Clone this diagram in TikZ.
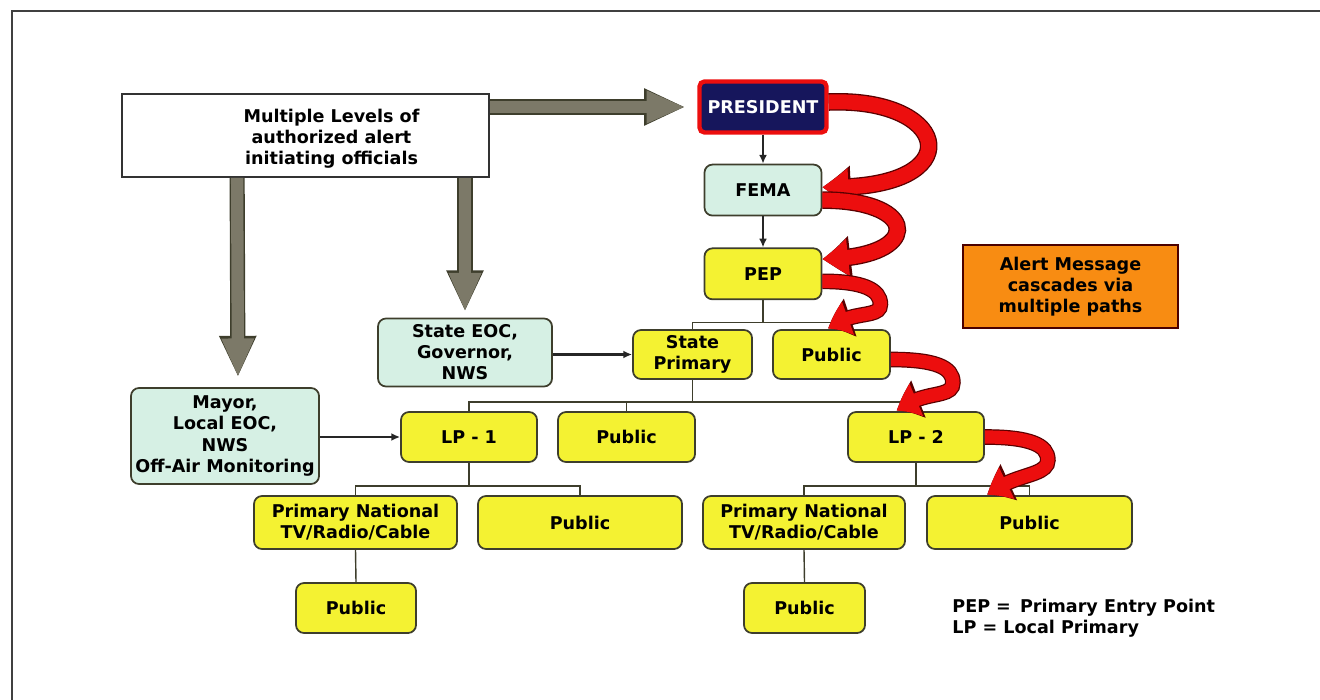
\documentclass[tikz,border=0pt]{standalone}
\usepackage{fontspec}
\setmainfont{DejaVu Sans}
\usetikzlibrary{positioning,arrows.meta,bending}

\definecolor{boxyellow}{RGB}{244,242,50}
\definecolor{boxmint}{RGB}{214,240,228}
\definecolor{boxnavy}{RGB}{22,22,92}
\definecolor{boxorange}{RGB}{248,140,18}
\definecolor{boxedge}{RGB}{62,62,44}
\definecolor{blockgray}{RGB}{124,121,104}
\definecolor{cascred}{RGB}{236,14,14}

\tikzset{
  txt/.style={font=\fontsize{10}{12}\selectfont\bfseries},
  wh/.style 2 args={minimum width=#1, minimum height=#2},
  box/.style={draw=boxedge, line width=1pt, rounded corners=1.6mm, align=center, txt, inner sep=1pt},
  yel/.style={box, fill=boxyellow},
  mint/.style={box, fill=boxmint},
  feed/.style={line width=1.4pt, black!85, -{Latex[length=5pt,width=4.5pt]}},
  tree/.style={line width=0.8pt, boxedge},
  block/.style={line width=7pt, blockgray, -{Triangle[length=22pt,width=17pt]},
    preaction={draw=boxedge, line width=8.6pt, -{Triangle[length=23.5pt,width=19.5pt]}}},
  cascade/.style={line width=8.5pt, cascred, -{Triangle[length=15pt,width=20pt,bend]},
    preaction={draw=black!65!red, line width=10pt, -{Triangle[length=16.5pt,width=22.5pt,bend]}}},
  cascadelow/.style={line width=7.5pt, cascred, -{Triangle[length=13pt,width=19pt,bend]},
    preaction={draw=black!65!red, line width=8.9pt, -{Triangle[length=14.4pt,width=21.4pt,bend]}}},
}

\begin{document}
\begin{tikzpicture}[x=0.2mm, y=-0.2mm]
\useasboundingbox (0,0) rectangle (1320,700);
% frame
\draw[line width=1.2pt, black!75] (12,700) -- (12,11) -- (1320,11);

% officials and the chain from the top
\node[draw=black!80, line width=1pt, fill=white, wh={73.4mm}{16.6mm},
  label={[xshift=5.2mm, yshift=-0.6mm, align=center, txt]center:Multiple Levels of\\authorized alert\\initiating officials}] (officials) at (305.5,135.5) {};
\node[box, fill=boxnavy, draw=cascred, line width=2.5pt, rounded corners=1mm, text=white, wh={25.4mm}{10.2mm}] (pres) at (763,107) {PRESIDENT};
\node[mint, wh={23.4mm}{10.2mm}, below=5.8mm of pres] (fema) {FEMA};
\node[yel, wh={23.4mm}{10.2mm}, below=6.2mm of fema] (pep) {PEP};

% state level
\node[mint, wh={34.8mm}{13.6mm}] (stateeoc) at (465,352.5) {State EOC,\\Governor,\\NWS};
\node[yel, wh={23.8mm}{9.8mm}] (stpri) at (692.5,354.5) {State\\Primary};
\node[yel, wh={23.4mm}{9.8mm}] (pub1) at (831.5,354.5) {Public};

% local level
\node[mint, wh={37.6mm}{19.2mm}] (mayor) at (225,436) {Mayor,\\Local EOC,\\NWS\\Off-Air Monitoring};
\node[yel, wh={27.2mm}{10mm}] (lp1) at (469,437) {LP - 1};
\node[yel, wh={27.4mm}{10mm}] (pub2) at (626.5,437) {Public};
\node[yel, wh={27.2mm}{10mm}] (lp2) at (916,437) {LP - 2};

% bottom rows
\node[yel, wh={40.6mm}{10.6mm}] (nat1) at (355.5,522.5) {Primary National\\TV/Radio/Cable};
\node[yel, wh={40.8mm}{10.6mm}] (pub3) at (580,522.5) {Public};
\node[yel, wh={24mm}{10mm}] (pub4) at (356,608) {Public};
\node[yel, wh={40.4mm}{10.6mm}] (nat2) at (804,522.5) {Primary National\\TV/Radio/Cable};
\node[yel, wh={41mm}{10.6mm}] (pub5) at (1029.5,522.5) {Public};
\node[yel, wh={24.2mm}{10mm}] (pub6) at (804.5,608) {Public};

\node[box, fill=boxorange, draw=black!70!red, rounded corners=0pt, wh={43mm}{16.6mm}] (note) at (1070.5,286.5) {Alert Message\\cascades via\\multiple paths};
\node[txt, align=left, anchor=west, inner sep=0pt] (legend) at (952,618) {PEP = \,Primary Entry Point\\LP = Local Primary};

% tree lines
\draw[tree] (pep.south) -- ++(0,22) coordinate (j1);
\draw[tree] (stpri.north) |- (j1) -| (pub1.north);
\draw[tree] (stpri.south) -- ++(0,22) coordinate (j2);
\draw[tree] (lp1.north) |- (j2) -| (lp2.north);
\draw[tree] (pub2.north) -- (pub2.north |- j2);
\draw[tree] (lp1.south) -- ++(0,23) coordinate (j3);
\draw[tree] (nat1.north) |- (j3) -| (pub3.north);
\draw[tree] (nat1.south) -- (pub4.north);
\draw[tree] (lp2.south) -- ++(0,23) coordinate (j4);
\draw[tree] (nat2.north) |- (j4) -| (pub5.north);
\draw[tree] (nat2.south) -- (pub6.north);

% feeds
\draw[feed] (pres) -- (fema);
\draw[feed] (fema) -- (pep);
\draw[feed] (stateeoc.east |- stpri.west) -- (stpri.west);
\draw[feed] (mayor.east |- lp1.west) -- (lp1.west);

% officials block arrows
\draw[block, shorten >=2.4mm] (officials.east |- pres.west) -- (pres.west);
\draw[block, shorten >=2mm] ([xshift=23.2mm]officials.south west) -- ([xshift=2.6mm]mayor.north);
\draw[block, shorten >=1.2mm] (officials.south -| stateeoc.north) -- (stateeoc.north);

% cascade
\draw[cascade] ([yshift=1mm]pres.east) .. controls +(125,-5) and +(150,5) .. ([yshift=0.6mm]fema.east);
\draw[cascade] ([yshift=-2mm]fema.east) .. controls +(100,0) and +(100,0) .. ([yshift=3mm]pep.east);
\draw[cascadelow] ([yshift=-1.5mm]pep.east) .. controls +(40,0) and +(0,-15) .. ++(58,23)
  .. controls +(0,15) and +(22,-20) .. ([xshift=-0.6mm]pub1.north);
\draw[cascadelow] ([yshift=-1mm]pub1.east) .. controls +(45,0) and +(0,-15) .. ++(62,23)
  .. controls +(0,17) and +(25,-22) .. ([xshift=-3.8mm]lp2.north);
\draw[cascadelow] (lp2.east) .. controls +(45,0) and +(0,-15) .. ++(63,23)
  .. controls +(0,17) and +(25,-22) .. ([xshift=-8.4mm]pub5.north);
\end{tikzpicture}
\end{document}
